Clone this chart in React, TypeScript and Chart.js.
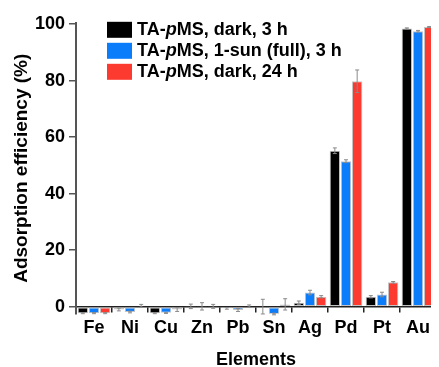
import React, { useEffect, useRef } from "react";
import { Chart, registerables } from "chart.js";

Chart.register(...registerables);

const categories = ["Fe", "Ni", "Cu", "Zn", "Pb", "Sn", "Ag", "Pd", "Pt", "Au"];
const legendLabels = ["TA-pMS, dark, 3 h", "TA-pMS, 1-sun (full), 3 h", "TA-pMS, dark, 24 h"];
const darkShort = [-2.3, -1.0, -2.3, 0.1, -0.6, 0.0, 1.4, 55.2, 3.5, 98.5];
const sunShort = [-2.3, -1.9, -2.2, 0.1, -1.2, -2.6, 5.0, 51.5, 4.3, 97.5];
const darkLong = [-2.3, 0.3, -1.0, 0.1, 0.2, 0.8, 3.5, 79.8, 8.6, 99.0];
const darkShortErr = [0.2, 0.5, 0.2, 0.8, 0.3, 2.6, 0.6, 1.0, 0.4, 0.2];
const sunShortErr = [0.2, 0.3, 0.2, 1.3, 0.5, 0.3, 0.8, 0.5, 0.8, 0.3];
const darkLongErr = [0.2, 0.5, 0.7, 0.7, 0.4, 2.0, 0.4, 4.0, 0.3, 0.2];
const yTicks = [0, 20, 40, 60, 80, 100];
const colors = ["#000000", "#0b7dfb", "#fc3a2f"];

const FONT = "'Liberation Sans', Arial, sans-serif";

const errorBarPlugin = {
  id: "errorBars",
  afterDatasetsDraw(chart: any) {
    const ctx = chart.ctx;
    const yScale = chart.scales.y;
    chart.data.datasets.forEach((ds: any, i: number) => {
      const meta = chart.getDatasetMeta(i);
      meta.data.forEach((el: any, j: number) => {
        const v = ds.data[j];
        const e = ds.errors[j];
        const x = el.x;
        const yTop = yScale.getPixelForValue(v + e);
        const yBot = yScale.getPixelForValue(v - e);
        ctx.save();
        ctx.strokeStyle = "#8a8a8a";
        ctx.lineWidth = 1;
        ctx.beginPath();
        ctx.moveTo(x, yTop);
        ctx.lineTo(x, yBot);
        ctx.moveTo(x - 2, yTop);
        ctx.lineTo(x + 2, yTop);
        ctx.moveTo(x - 2, yBot);
        ctx.lineTo(x + 2, yBot);
        ctx.stroke();
        ctx.restore();
      });
    });
  },
};

const legendPlugin = {
  id: "customLegend",
  afterDraw(chart: any) {
    const ctx = chart.ctx;
    const area = chart.chartArea;
    const boxX = area.left + 31;
    const rowTop = area.top - 1;
    const pitch = 21;
    chart.data.datasets.forEach((ds: any, i: number) => {
      const y = rowTop + i * pitch;
      ctx.save();
      ctx.fillStyle = colors[i];
      ctx.fillRect(boxX, y, 25, 16);
      ctx.fillStyle = "#000";
      ctx.textBaseline = "middle";
      ctx.textAlign = "left";
      const m = /^(TA-)(p)(.*)$/.exec(ds.label);
      const parts = m
        ? [
            { t: m[1], it: false },
            { t: m[2], it: true },
            { t: m[3], it: false },
          ]
        : [{ t: ds.label, it: false }];
      let x = boxX + 30;
      const cy = y + 8.5;
      parts.forEach((p) => {
        ctx.font = (p.it ? "italic " : "") + "bold 18px " + FONT;
        ctx.fillText(p.t, x, cy);
        x += ctx.measureText(p.t).width;
      });
      ctx.restore();
    });
  },
};

export default function App() {
  const ref = useRef<HTMLCanvasElement | null>(null);
  useEffect(() => {
    if (!ref.current) return;
    const series = [darkShort, sunShort, darkLong];
    const errs = [darkShortErr, sunShortErr, darkLongErr];
    const chart = new Chart(ref.current, {
      type: "bar",
      data: {
        labels: categories,
        datasets: series.map((d, i) => ({
          label: legendLabels[i],
          data: d,
          errors: errs[i],
          backgroundColor: colors[i],
          borderColor: "#c4c4c4",
          borderWidth: 1,
          borderSkipped: false,
          categoryPercentage: 0.93,
          barPercentage: 0.93,
        })) as any,
      },
      options: {
        animation: false,
        responsive: true,
        maintainAspectRatio: false,
        layout: { padding: { top: 13, right: 3, bottom: 53.3, left: 0 } },
        plugins: {
          legend: { display: false },
          tooltip: { enabled: false },
        },
        scales: {
          x: {
            position: { y: 0 } as any,
            grid: {
              display: true,
              drawOnChartArea: false,
              drawTicks: true,
              tickLength: 5,
              offset: true,
              color: "#222",
              lineWidth: 1.5,
            },
            border: { display: true, color: "#222", width: 1.5 },
            ticks: {
              color: "#000",
              padding: 6,
              font: { family: FONT, size: 18, weight: "bold" },
            },
            title: {
              display: true,
              text: "Elements",
              color: "#000",
              padding: { top: 4, bottom: 0 },
              font: { family: FONT, size: 18, weight: "bold" },
            },
          },
          y: {
            min: -2.5,
            max: 100.5,
            afterBuildTicks: (scale: any) => {
              scale.ticks = yTicks.map((v) => ({ value: v }));
            },
            afterFit: (scale: any) => {
              scale.width = 68;
            },
            grid: {
              display: true,
              drawOnChartArea: false,
              drawTicks: true,
              tickLength: 7,
              color: "#555",
              lineWidth: 1.5,
            },
            border: { display: true, color: "#555", width: 2 },
            ticks: {
              color: "#000",
              padding: 4,
              font: { family: FONT, size: 18, weight: "bold" },
            },
            title: {
              display: true,
              text: "Adsorption efficiency (%)",
              color: "#000",
              padding: { top: 2, bottom: 0 },
              font: { family: FONT, size: 19, weight: "bold" },
            },
          },
        },
      },
      plugins: [errorBarPlugin, legendPlugin],
    });
    return () => chart.destroy();
  }, []);
  return (
    <div style={{ position: "relative", width: 431, height: 359 }}>
      <canvas ref={ref} />
    </div>
  );
}
